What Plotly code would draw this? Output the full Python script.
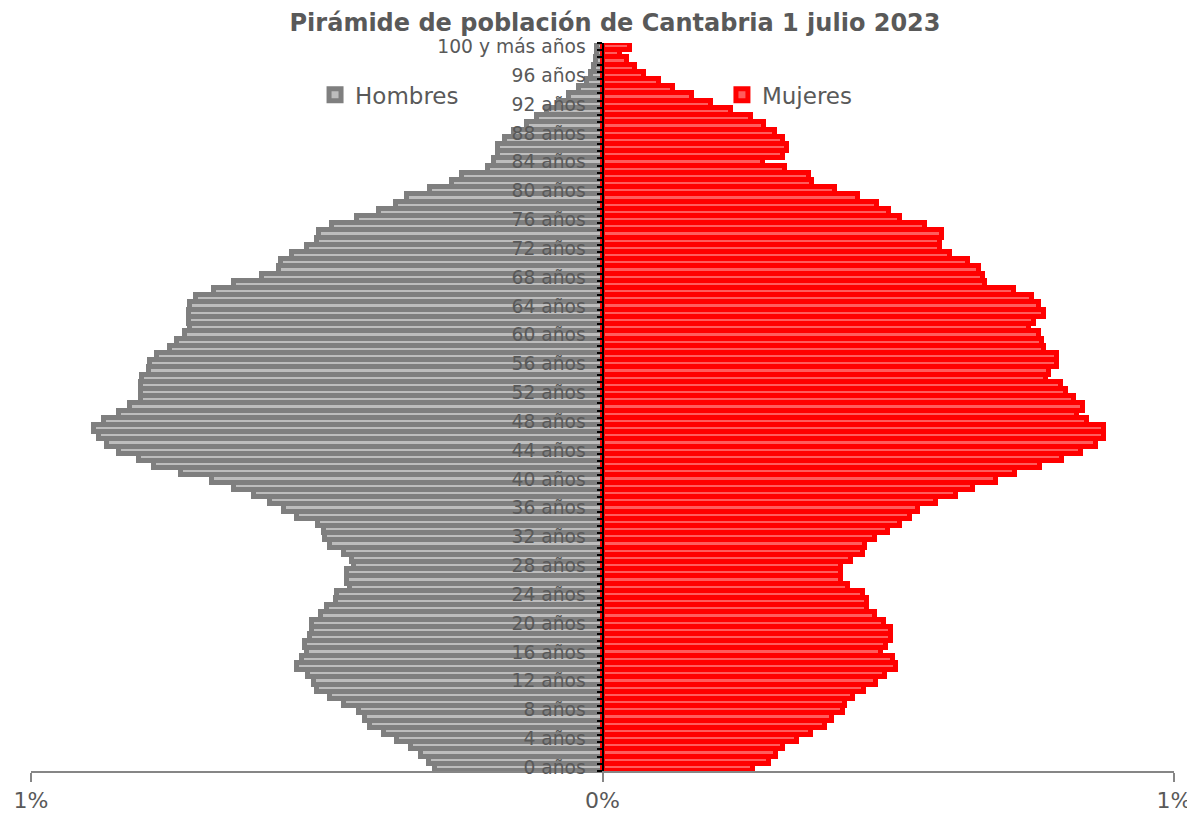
import plotly.graph_objects as go

ages = list(range(0, 101))

hombres = [0.293, 0.303, 0.318, 0.335, 0.360, 0.383, 0.406, 0.415, 0.426, 0.453,
           0.476, 0.499, 0.505, 0.515, 0.535, 0.525, 0.517, 0.520, 0.511, 0.508,
           0.508, 0.493, 0.482, 0.467, 0.464, 0.441, 0.447, 0.447, 0.435, 0.438,
           0.453, 0.476, 0.485, 0.488, 0.497, 0.534, 0.558, 0.581, 0.610, 0.645,
           0.683, 0.738, 0.785, 0.811, 0.846, 0.867, 0.881, 0.890, 0.873, 0.846,
           0.826, 0.808, 0.808, 0.808, 0.806, 0.794, 0.791, 0.779, 0.756, 0.744,
           0.730, 0.721, 0.724, 0.724, 0.721, 0.712, 0.680, 0.644, 0.595, 0.566,
           0.563, 0.543, 0.517, 0.499, 0.496, 0.473, 0.429, 0.391, 0.362, 0.342,
           0.301, 0.263, 0.245, 0.200, 0.190, 0.183, 0.183, 0.170, 0.155, 0.132,
           0.114, 0.097, 0.076, 0.059, 0.041, 0.027, 0.020, 0.015, 0.012, 0.010,
           0.010]

mujeres = [0.264, 0.291, 0.303, 0.316, 0.341, 0.365, 0.389, 0.402, 0.420, 0.425,
           0.439, 0.457, 0.479, 0.494, 0.513, 0.508, 0.488, 0.496, 0.504, 0.504,
           0.492, 0.476, 0.463, 0.463, 0.456, 0.429, 0.418, 0.418, 0.418, 0.434,
           0.456, 0.460, 0.476, 0.499, 0.520, 0.538, 0.552, 0.584, 0.619, 0.649,
           0.688, 0.721, 0.765, 0.804, 0.838, 0.863, 0.878, 0.878, 0.848, 0.831,
           0.840, 0.825, 0.811, 0.803, 0.776, 0.781, 0.796, 0.796, 0.772, 0.769,
           0.763, 0.746, 0.755, 0.772, 0.763, 0.752, 0.720, 0.670, 0.666, 0.658,
           0.640, 0.608, 0.591, 0.591, 0.594, 0.564, 0.520, 0.502, 0.481, 0.447,
           0.407, 0.366, 0.361, 0.320, 0.280, 0.315, 0.323, 0.316, 0.301, 0.282,
           0.259, 0.224, 0.189, 0.156, 0.124, 0.099, 0.072, 0.057, 0.043, 0.031,
           0.048]

label_ages = list(range(0, 101, 4))
label_text = [f"{a} años" if a < 100 else "100 y más años" for a in label_ages]

x_tickvals = [-1, 0, 1]
x_ticktext = ["1%", "0%", "1%"]

FONT = "DejaVu Sans, Verdana, sans-serif"
TXT = "#595959"

fig = go.Figure()
fig.add_trace(go.Bar(
    y=ages, x=[-v for v in hombres], orientation="h", name="Hombres",
    marker=dict(color="#bdbdbd", line=dict(color="#7f7f7f", width=5)),
    legend="legend",
))
fig.add_trace(go.Bar(
    y=ages, x=mujeres, orientation="h", name="Mujeres",
    marker=dict(color="#ff5c5c", line=dict(color="#ff0000", width=5)),
    legend="legend2",
))

# page body has an 8px default margin -> figure is 1187x806 placed at (8, 8)
fig.update_layout(
    width=1187, height=806,
    margin=dict(l=23, r=21, t=35, b=43, autoexpand=False),
    paper_bgcolor="white", plot_bgcolor="white",
    barmode="overlay", bargap=0,
    font=dict(family=FONT, color=TXT),
    title=dict(text="<b>Pirámide de población de Cantabria 1 julio 2023</b>",
               x=0.5114, xanchor="center", y=0.9825, yanchor="middle",
               font=dict(family=FONT, size=24, color=TXT), automargin=False),
    legend=dict(x=0.2485, xanchor="left", y=0.929, yanchor="middle",
                font=dict(size=23, color=TXT), bgcolor="rgba(0,0,0,0)"),
    legend2=dict(x=0.6045, xanchor="left", y=0.929, yanchor="middle",
                 font=dict(size=23, color=TXT), bgcolor="rgba(0,0,0,0)"),
    showlegend=True,
)

fig.update_xaxes(
    range=[-1, 1], tickmode="array", tickvals=x_tickvals, ticktext=x_ticktext,
    showgrid=False, zeroline=False, showline=True, linecolor="#868686", linewidth=1.5,
    ticks="outside", ticklen=9, tickcolor="#868686", tickwidth=1.5,
    tickfont=dict(size=22, color=TXT, family=FONT), automargin=False,
)

fig.update_yaxes(
    range=[-0.5, 100.5], anchor="free", position=0.5,
    tickmode="array", tickvals=label_ages, ticktext=label_text,
    ticks="", showgrid=False, zeroline=False,
    showline=True, linecolor="black", linewidth=2,
    tickfont=dict(size=18.7, color=TXT, family=FONT),
    ticklabelstandoff=12, automargin=False,
    minor=dict(tickmode="array", tickvals=[a - 0.5 for a in range(0, 102)],
               ticks="outside", ticklen=5, tickcolor="black", tickwidth=1.5),
    layer="above traces",
)

fig.write_html("out.html")
